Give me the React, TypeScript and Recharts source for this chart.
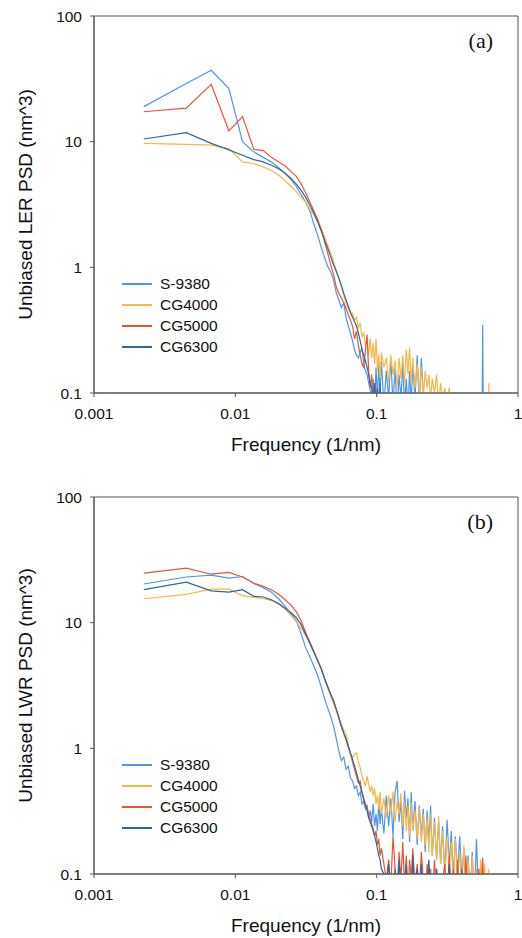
import { LineChart, Line, XAxis, YAxis, ReferenceArea, Legend } from 'recharts';

// spatial frequency (1/nm), shared by every series
const freq = [
  0.00225, 0.0045, 0.00675, 0.009, 0.01125, 0.0135, 0.01575, 0.018, 0.02025, 0.0225,
  0.02475, 0.027, 0.02925, 0.0315, 0.03375, 0.036, 0.03825, 0.0405, 0.04275, 0.045,
  0.04725, 0.0495, 0.05175, 0.054, 0.05625, 0.0585, 0.06075, 0.063, 0.06525, 0.0675,
  0.06975, 0.072, 0.07425, 0.0765, 0.07875, 0.081, 0.08325, 0.0855, 0.08775, 0.09,
  0.09225, 0.0945, 0.09675, 0.099, 0.10125, 0.1035, 0.10575, 0.108, 0.1125, 0.117,
  0.1215, 0.126, 0.1305, 0.135, 0.1395, 0.144, 0.1485, 0.153, 0.1575, 0.162,
  0.1665, 0.171, 0.1755, 0.18, 0.18675, 0.1935, 0.20025, 0.207, 0.21375, 0.2205,
  0.22725, 0.234, 0.24075, 0.2475, 0.2565, 0.2655, 0.2745, 0.2835, 0.2925, 0.30375,
  0.315, 0.32625, 0.3375, 0.34875, 0.36, 0.3735, 0.387, 0.4005, 0.414, 0.4275,
  0.44325, 0.459, 0.47475, 0.4905, 0.5085, 0.5265, 0.5445, 0.5625, 0.5805, 0.5985,
  0.621, 0.6435,
];

const xTicks = [0.001, 0.01, 0.1, 1];
const yTicks = [0.1, 1, 10, 100];

// (a) LER PSD
const lerS9380 = [
  19, 29, 37, 26.5, 10, 8.3, 7.5, 6.9, 6.2, 5.6,
  5.0, 4.4, 3.8, 3.3, 2.8, 2.2, 1.8, 1.45, 1.2, 1.02,
  0.92, 0.8, 0.63, 0.55, 0.48, 0.52, 0.4, 0.34, 0.3, 0.26,
  0.22, 0.2, 0.19, 0.21, 0.23, 0.17, 0.15, 0.14, 0.12, 0.105,
  0.09, 0.13, 0.08, 0.16, 0.09, 0.17, 0.1, 0.18, 0.08, 0.15,
  0.09, 0.19, 0.08, 0.16, 0.07, 0.14, 0.09, 0.17, 0.08, 0.13,
  0.07, 0.15, 0.08, 0.17, 0.09, 0.2, 0.08, 0.19, 0.1, 0.06,
  null, null, null, null, null, null, null, null, null, null,
  null, null, null, null, null, null, null, null, null, null,
  null, null, null, null, null, null, 0.001, 0.35, 0.001, null,
  null, null,
];
const lerCG4000 = [
  9.7, 9.5, 9.4, 8.8, 6.9, 6.7, 6.3, 5.9, 5.4, 4.9,
  4.4, 4.0, 3.6, 3.3, 2.9, 2.6, 2.3, 2.05, 1.75, 1.5,
  1.3, 1.12, 0.95, 0.82, 0.7, 0.6, 0.52, 0.47, 0.43, 0.43,
  0.38, 0.4, 0.33, 0.36, 0.28, 0.3, 0.24, 0.26, 0.2, 0.27,
  0.19, 0.25, 0.17, 0.27, 0.15, 0.2, 0.13, 0.21, 0.16, 0.19,
  0.12, 0.2, 0.14, 0.18, 0.11, 0.19, 0.13, 0.2, 0.12, 0.22,
  0.14, 0.23, 0.12, 0.19, 0.11, 0.17, 0.1, 0.16, 0.09, 0.15,
  0.11, 0.14, 0.09, 0.13, 0.1, 0.14, 0.08, 0.12, 0.09, 0.11,
  0.08, 0.11, 0.07, 0.1, 0.06, null, null, null, null, null,
  null, null, null, null, null, null, null, null, null, 0.001,
  0.12, 0.001,
];
const lerCG5000 = [
  17.3, 18.5, 28.6, 12.2, 15.8, 8.7, 8.5, 7.5, 6.9, 6.4,
  5.8, 5.3, 4.6, 3.9, 3.3, 2.8, 2.4, 2.0, 1.6, 1.3,
  1.05, 0.88, 0.7, 0.62, 0.57, 0.52, 0.47, 0.42, 0.38, 0.34,
  0.27, 0.31, 0.24, 0.2, 0.17, 0.16, 0.22, 0.29, 0.15, 0.11,
  0.14, 0.08, 0.12, 0.07, 0.11, 0.06, 0.1, 0.05,
];
const lerCG6300 = [
  10.5, 11.8, 9.7, 8.6, 7.8, 7.2, 6.9, 6.5, 6.1, 5.6,
  5.1, 4.6, 4.1, 3.6, 3.1, 2.7, 2.3, 1.95, 1.65, 1.42,
  1.22, 1.05, 0.93, 0.82, 0.72, 0.62, 0.55, 0.49, 0.44, 0.4,
  0.37, 0.34, 0.3, 0.26, 0.22, 0.2, 0.18, 0.16, 0.14, 0.12,
  0.11, 0.09, 0.12, 0.08, 0.11, 0.07, 0.12, 0.06,
];

// (b) LWR PSD
const lwrS9380 = [
  20.3, 23.1, 23.9, 22.6, 23.3, 20.5, 19.0, 17.5, 15.5, 13.5,
  11.8, 10.4, 8.1, 6.3, 5.3, 4.5, 3.8, 3.1, 2.5, 2.1,
  1.8, 1.5, 1.2, 0.95, 0.8, 0.85, 0.68, 0.72, 0.58, 0.55,
  0.48, 0.5, 0.42, 0.45, 0.36, 0.38, 0.33, 0.35, 0.28, 0.32,
  0.26, 0.36, 0.24, 0.3, 0.22, 0.38, 0.25, 0.33, 0.21, 0.42,
  0.24, 0.4, 0.2, 0.45, 0.55, 0.26, 0.38, 0.19, 0.46, 0.28,
  0.4, 0.18, 0.45, 0.22, 0.38, 0.17, 0.35, 0.2, 0.33, 0.15,
  0.32, 0.18, 0.35, 0.14, 0.28, 0.13, 0.26, 0.12, 0.24, 0.1,
  0.27, 0.12, 0.22, 0.09, 0.2, 0.1, 0.2, 0.09, 0.16, 0.08,
  0.14, 0.07, 0.15, 0.06, 0.19, 0.06, 0.12, 0.05,
];
const lwrCG4000 = [
  15.5, 16.8, 18.5, 18.5, 16.4, 15.9, 15.5, 15.0, 14.0, 12.8,
  11.4, 10.2, 9.0, 7.9, 6.8, 5.8, 5.0, 4.3, 3.6, 3.0,
  2.6, 2.25, 2.0, 1.75, 1.55, 1.4, 1.3, 1.05, 0.9, 0.85,
  0.9, 0.92, 0.78, 0.7, 0.6, 0.55, 0.5, 0.6, 0.52, 0.45,
  0.5, 0.42, 0.48, 0.36, 0.42, 0.33, 0.45, 0.3, 0.4, 0.28,
  0.42, 0.3, 0.45, 0.26, 0.38, 0.3, 0.44, 0.24, 0.38, 0.22,
  0.35, 0.2, 0.37, 0.22, 0.32, 0.19, 0.34, 0.18, 0.3, 0.17,
  0.28, 0.15, 0.3, 0.14, 0.26, 0.13, 0.29, 0.12, 0.22, 0.1,
  0.2, 0.11, 0.18, 0.08, 0.19, 0.09, 0.15, 0.08, 0.17, 0.07,
  0.13, 0.06, 0.14, 0.06, 0.11, 0.05, 0.13, 0.06, 0.12, 0.05,
  0.11, 0.04,
];
const lwrCG5000 = [
  24.8, 27.2, 24.3, 25.1, 23.1, 20.7, 19.5, 18.3, 16.8, 15.2,
  13.8, 12.2, 10.3, 8.3, 7.0, 5.9, 5.0, 4.3, 3.6, 3.1,
  2.7, 2.4, 2.05, 1.75, 1.5, 1.32, 1.18, 1.02, 0.9, 0.78,
  0.68, 0.6, 0.53, 0.55, 0.45, 0.4, 0.36, 0.34, 0.3, 0.27,
  0.25, 0.23, 0.2, 0.22, 0.17, 0.19, 0.14, 0.16, 0.12, 0.09,
  0.13, 0.08, 0.2, 0.11, 0.07, 0.15, 0.09, 0.18, 0.08, 0.14,
  0.07, 0.13, 0.09, 0.16, 0.08, 0.12, 0.07, 0.15, 0.09, 0.06,
  0.12, 0.08, 0.11, 0.06, 0.13, 0.07, 0.1, 0.06, 0.09, 0.12,
  0.06, 0.14, 0.07, 0.11, 0.05, 0.13, 0.06, 0.1, 0.05, 0.14,
  0.06, 0.09, 0.05, 0.08, 0.05, 0.11, 0.06, 0.135, 0.05,
];
const lwrCG6300 = [
  18.3, 21, 17.9, 17.5, 18.3, 16.2, 16.0, 15.2, 14.2, 13.0,
  12.0, 11.0, 9.6, 8.0, 6.8, 5.8, 5.0, 4.3, 3.6, 3.1,
  2.7, 2.4, 2.05, 1.75, 1.5, 1.32, 1.18, 1.05, 0.92, 0.82,
  0.72, 0.64, 0.56, 0.5, 0.44, 0.39, 0.35, 0.32, 0.28, 0.26,
  0.24, 0.22, 0.2, 0.18, 0.16, 0.14, 0.13, 0.11, 0.1, 0.08,
  0.12, 0.07, 0.06, 0.11, 0.06, 0.13, 0.07, 0.09, 0.05, 0.12,
  0.06, 0.1, 0.05, 0.14, 0.07, 0.11, 0.06, 0.12, 0.05, 0.1,
  0.06, 0.13, 0.07, 0.09, 0.05, 0.11, 0.06, 0.1, 0.05, 0.09,
  0.05, 0.12, 0.06, 0.1, 0.05, 0.09, 0.05, 0.11, 0.05,
];

const seriesInfo = [
  { key: 's9380', name: 'S-9380', color: '#4f95ec' },
  { key: 'cg4000', name: 'CG4000', color: '#f8b848' },
  { key: 'cg5000', name: 'CG5000', color: '#e6573a' },
  { key: 'cg6300', name: 'CG6300', color: '#2b6a9a' },
];

type Col = (number | null)[];

const buildRows = (cols: Col[]) =>
  freq.map((f, i) => {
    const row: Record<string, number | null> = { f };
    seriesInfo.forEach((s, j) => {
      row[s.key] = cols[j][i] ?? null;
    });
    return row;
  });

const lerRows = buildRows([lerS9380, lerCG4000, lerCG5000, lerCG6300]);
const lwrRows = buildRows([lwrS9380, lwrCG4000, lwrCG5000, lwrCG6300]);

const axisColor = '#555';
const textColor = '#111';

const LegendBox = () => (
  <div style={{ fontSize: 15.5, color: textColor }}>
    {seriesInfo.map((s) => (
      <div key={s.key} style={{ display: 'flex', alignItems: 'center', height: 21 }}>
        <div style={{ width: 30, height: 2, background: s.color, marginRight: 8, flexShrink: 0 }} />
        <span>{s.name}</span>
      </div>
    ))}
  </div>
);

function PsdChart({ rows, yTitle, tag }: { rows: any[]; yTitle: string; tag: string }) {
  const renderXTitle = ({ viewBox }: any) => (
    <text x={viewBox.x + viewBox.width / 2} y={viewBox.y + 58} textAnchor="middle" fontSize={19} fill={textColor}>
      Frequency (1/nm)
    </text>
  );

  const renderYTitle = ({ viewBox }: any) => {
    const cx = viewBox.x - 9;
    const cy = viewBox.y + viewBox.height / 2;
    return (
      <text
        x={cx}
        y={cy}
        transform={`rotate(-90 ${cx} ${cy})`}
        textAnchor="middle"
        dominantBaseline="central"
        fontSize={19}
        fill={textColor}
      >
        {yTitle}
      </text>
    );
  };

  const renderTag = ({ viewBox }: any) => (
    <text
      x={viewBox.x + viewBox.width - 25}
      y={viewBox.y + 32}
      textAnchor="end"
      fontFamily='"Liberation Serif", "Times New Roman", serif'
      fontSize={22}
      fill={textColor}
    >
      {tag}
    </text>
  );

  return (
    <LineChart width={522} height={457} data={rows} margin={{ top: 16, right: 4, bottom: 24, left: 34 }}>
      <XAxis
        dataKey="f"
        type="number"
        scale="log"
        domain={[0.001, 1]}
        ticks={xTicks}
        interval={0}
        allowDataOverflow
        height={40}
        tickSize={4}
        tickMargin={11}
        stroke={axisColor}
        tick={{ fill: textColor, fontSize: 15.5 }}
        label={renderXTitle}
      />
      <YAxis
        type="number"
        scale="log"
        domain={[0.1, 100]}
        ticks={yTicks}
        interval={0}
        allowDataOverflow
        width={60}
        tickSize={4}
        tickMargin={8}
        stroke={axisColor}
        tick={{ fill: textColor, fontSize: 15.5 }}
        label={renderYTitle}
      />
      {seriesInfo.map((s) => (
        <Line
          key={s.key}
          dataKey={s.key}
          name={s.name}
          stroke={s.color}
          strokeWidth={1.2}
          dot={false}
          activeDot={false}
          connectNulls={false}
          isAnimationActive={false}
        />
      ))}
      <ReferenceArea x1={0.001} x2={1} y1={0.1} y2={100} fill="none" stroke={axisColor} strokeWidth={1} label={renderTag} />
      <Legend
        layout="vertical"
        align="center"
        verticalAlign="middle"
        wrapperStyle={{ left: 122, top: 273, width: 'auto' }}
        content={() => <LegendBox />}
      />
    </LineChart>
  );
}

export default function App() {
  return (
    <div
      style={{
        position: 'absolute',
        left: 0,
        top: 0,
        width: 522,
        height: 938,
        background: '#fff',
        fontFamily: '"Liberation Sans", Arial, sans-serif',
      }}
    >
      <div style={{ position: 'absolute', left: 0, top: 0 }}>
        <PsdChart rows={lerRows} yTitle="Unbiased LER PSD (nm^3)" tag="(a)" />
      </div>
      <div style={{ position: 'absolute', left: 0, top: 481 }}>
        <PsdChart rows={lwrRows} yTitle="Unbiased LWR PSD (nm^3)" tag="(b)" />
      </div>
    </div>
  );
}
